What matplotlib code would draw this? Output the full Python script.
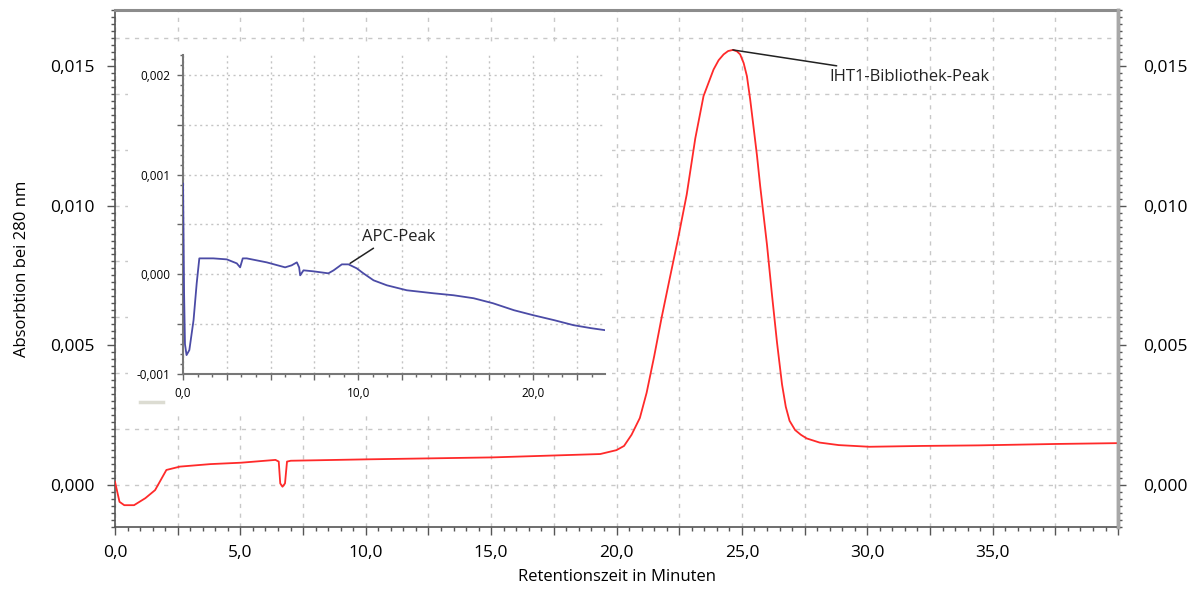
import numpy as np
import matplotlib.pyplot as plt
from matplotlib.ticker import MultipleLocator, FuncFormatter
from matplotlib.lines import Line2D

plt.rcParams['font.family'] = ['Open Sans', 'DejaVu Sans']

# Chromatogramm, gesamter Lauf (rot)
zeit = [0.0, 0.18, 0.37, 0.76, 1.21, 1.6, 2.05, 2.59, 3.81, 5.03,
        6.4, 6.53, 6.59, 6.68, 6.78, 6.86, 7.01, 10.04, 15.06, 19.35,
        20.0, 20.3, 20.6, 20.93, 21.2, 21.5, 21.8, 22.1, 22.45, 22.8,
        23.14, 23.47, 23.87, 24.07, 24.27, 24.45, 24.64, 24.8, 24.93, 25.07,
        25.2, 25.33, 25.46, 25.6, 25.73, 26.0, 26.2, 26.4, 26.6, 26.75,
        26.9, 27.12, 27.35, 27.58, 28.1, 28.86, 30.08, 32.2, 34.45, 37.5,
        40.0]
absorption = [0.00012, -0.0006, -0.00072, -0.00072, -0.00047, -0.00018, 0.00054, 0.00066, 0.00075, 0.0008,
              0.0009, 0.00084, 0.00006, -0.00006, 0.00006, 0.00084, 0.00087, 0.00092, 0.00099, 0.00111,
              0.00125, 0.0014, 0.0018, 0.0024, 0.0033, 0.0046, 0.006, 0.0073, 0.0088, 0.0104,
              0.0124, 0.01392, 0.01487, 0.0152, 0.01541, 0.01553, 0.01557, 0.01552, 0.01541, 0.0151,
              0.01463, 0.0138, 0.01284, 0.0118, 0.01069, 0.0086, 0.0068, 0.0051, 0.0036, 0.0028,
              0.0023, 0.00197, 0.0018, 0.00167, 0.00152, 0.00143, 0.00137, 0.0014, 0.00142, 0.00147,
              0.0015]

# Ausschnitt 0-24 min (blau)
zeit_apc = [0.0, 0.06, 0.11, 0.2, 0.36, 0.6, 0.78, 0.93, 1.16, 1.73,
            2.5, 3.07, 3.26, 3.41, 3.64, 4.78, 5.83, 6.2, 6.5, 6.63,
            6.69, 6.88, 7.45, 8.3, 8.6, 9.07, 9.45, 9.92, 10.3, 10.88,
            11.64, 12.78, 14.3, 15.45, 16.6, 17.7, 18.9, 20.0, 21.2, 22.3,
            23.3, 24.1]
absorption_apc = [0.00091, -0.00019, -0.0007, -0.00081, -0.00076, -0.00046, -0.00009, 0.00016, 0.00016, 0.00016,
                  0.00015, 0.00011, 0.00007, 0.00016, 0.00016, 0.00012, 0.00007, 0.00009, 0.00012, 0.00007,
                  -0.00001, 0.00004, 0.00003, 0.00001, 0.00004, 0.0001, 0.0001, 0.00006, 0.00001, -0.00006,
                  -0.00011, -0.00016, -0.00019, -0.00021, -0.00024, -0.00029, -0.00036, -0.00041, -0.00046, -0.00051,
                  -0.00054, -0.00056]

komma3 = FuncFormatter(lambda v, p: f'{v:.3f}'.replace('.', ','))


def komma_x(step, vmax):
    def f(v, p):
        if abs(v / step - round(v / step)) > 1e-6 or v >= vmax:
            return ''
        return f'{v:.1f}'.replace('.', ',')
    return FuncFormatter(f)


fig = plt.figure(figsize=(11.94, 5.89), dpi=100)

ax = fig.add_axes([0.0963, 0.1053, 0.8401, 0.8778])
ax.plot(zeit, absorption, color='#ff2a2a', lw=1.3, zorder=3)
ax.set_xlim(0, 40)
ax.set_ylim(-0.0015, 0.0170)

ax.xaxis.set_major_locator(MultipleLocator(2.5))
ax.xaxis.set_minor_locator(MultipleLocator(0.5))
ax.xaxis.set_major_formatter(komma_x(5, 40))
ax.yaxis.set_major_locator(MultipleLocator(0.005))
ax.yaxis.set_minor_locator(MultipleLocator(0.00025))
ax.yaxis.set_major_formatter(komma3)
ax.tick_params(which='major', length=6, width=1, color='#555555', labelsize=12.5, pad=7)
ax.tick_params(which='minor', length=3, width=1, color='#555555')
ax.tick_params(axis='y', pad=9)

# Gitter: senkrecht alle 2,5 min, waagerecht alle 0,002
ax.grid(axis='x', which='major', color='#c8c8c8', ls=(0, (3, 4)), lw=1)
for g in np.arange(0, 0.0171, 0.002):
    ax.axhline(g, color='#c8c8c8', ls=(0, (3, 4)), lw=1, zorder=1)

for s in ['left', 'bottom']:
    ax.spines[s].set_color('#555555')
    ax.spines[s].set_linewidth(1.2)
ax.spines['top'].set_color('#8c8c8c')
ax.spines['top'].set_linewidth(2.2)
ax.spines['right'].set_color('#a8a8a8')
ax.spines['right'].set_linewidth(2.5)

ax.set_xlabel('Retentionszeit in Minuten', fontsize=12, labelpad=6)
ax.set_ylabel('Absorbtion bei 280 nm', fontsize=12, labelpad=14)

ax.annotate('IHT1-Bibliothek-Peak', xy=(24.64, 0.01557), xytext=(28.5, 0.0146),
            fontsize=12, va='center', ha='left', color='#222222',
            arrowprops=dict(arrowstyle='-', color='#222222', lw=1.1, shrinkA=2, shrinkB=0))

# rechte Achse mit gleicher Skala
ax2 = ax.twinx()
ax2.set_ylim(ax.get_ylim())
ax2.yaxis.set_major_locator(MultipleLocator(0.005))
ax2.yaxis.set_minor_locator(MultipleLocator(0.00025))
ax2.yaxis.set_major_formatter(komma3)
ax2.tick_params(which='major', length=6, width=1, color='#555555', labelsize=12.5, pad=12)
ax2.tick_params(which='minor', length=3, width=1, color='#555555')
for s in ['left', 'top', 'bottom']:
    ax2.spines[s].set_visible(False)
ax2.spines['right'].set_color('#a8a8a8')
ax2.spines['right'].set_linewidth(2.5)

# weisser Hintergrund fuer den Ausschnitt
bg = fig.add_axes([0.1072, 0.3005, 0.4054, 0.628])
bg.set_xticks([])
bg.set_yticks([])
for s in bg.spines.values():
    s.set_visible(False)
fig.add_artist(Line2D([0.117, 0.1365], [0.318, 0.318], transform=fig.transFigure,
                      color='#dcdcd2', lw=2.5))

ins = fig.add_axes([0.1533, 0.365, 0.3534, 0.5416])
ins.plot(zeit_apc, absorption_apc, color='#4b4ba6', lw=1.3, zorder=3)
ins.set_xlim(0, 24.1)
ins.set_ylim(-0.001, 0.0022)
ins.xaxis.set_major_locator(MultipleLocator(2.5))
ins.xaxis.set_minor_locator(MultipleLocator(2.5 / 3))
ins.xaxis.set_major_formatter(komma_x(10, 100))
ins.yaxis.set_major_locator(MultipleLocator(0.0005))
ins.yaxis.set_minor_locator(MultipleLocator(0.0001))
ins.yaxis.set_major_formatter(FuncFormatter(
    lambda v, p: '' if abs(v / 0.001 - round(v / 0.001)) > 1e-6 else f'{v:.3f}'.replace('.', ',')))
ins.tick_params(which='major', length=4, width=1, color='#666666', labelsize=8.5, pad=5)
ins.tick_params(which='minor', length=2, width=1, color='#666666')
ins.grid(which='major', color='#c4c4c4', ls=(0, (1.5, 2.5)), lw=1)
for s in ['top', 'right']:
    ins.spines[s].set_visible(False)
for s in ['left', 'bottom']:
    ins.spines[s].set_color('#777777')
    ins.spines[s].set_linewidth(1.5)

ins.annotate('APC-Peak', xy=(9.54, 0.00011), xytext=(10.2, 0.00037),
             fontsize=12, va='center', ha='left', color='#222222',
             arrowprops=dict(arrowstyle='-', color='#222222', lw=1.1, shrinkA=0, shrinkB=0,
                             relpos=(0.22, 0.0)))

fig.savefig('out.png', dpi=100)
